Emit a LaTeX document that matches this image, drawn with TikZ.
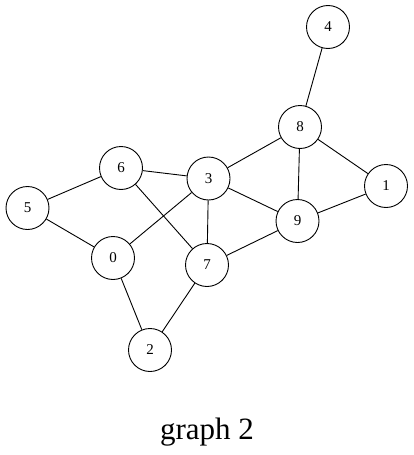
\documentclass[tikz,border=0pt]{standalone}
\usepackage{fontspec}
\setmainfont{Liberation Serif}
\begin{document}
\begin{tikzpicture}[x=1pt,y=-1pt,
  vertex/.style={draw,circle,line width=0.9pt,minimum size=43pt,inner sep=0pt,font=\fontsize{15}{17}\selectfont},
  edge/.style={line width=0.9pt}]
\useasboundingbox (0,0) rectangle (414,455);
\node[vertex] (n4) at (328,27) {4};
\node[vertex] (n8) at (300,127) {8};
\node[vertex] (n1) at (386,186) {1};
\node[vertex] (n3) at (208.5,178.5) {3};
\node[vertex] (n9) at (297.5,221) {9};
\node[vertex] (n6) at (121,168) {6};
\node[vertex] (n5) at (27.5,208) {5};
\node[vertex] (n0) at (113,258) {0};
\node[vertex] (n7) at (207,265) {7};
\node[vertex] (n2) at (150,350) {2};
\foreach \a/\b in {n4/n8,n8/n3,n8/n9,n8/n1,n1/n9,n3/n6,n3/n0,n3/n7,n3/n9,n6/n5,n6/n7,n5/n0,n0/n2,n7/n2,n7/n9}
  \draw[edge] (\a) -- (\b);
\node[anchor=base,font=\fontsize{31}{35}\selectfont] (title) at (207,439) {graph 2};
\end{tikzpicture}
\end{document}
